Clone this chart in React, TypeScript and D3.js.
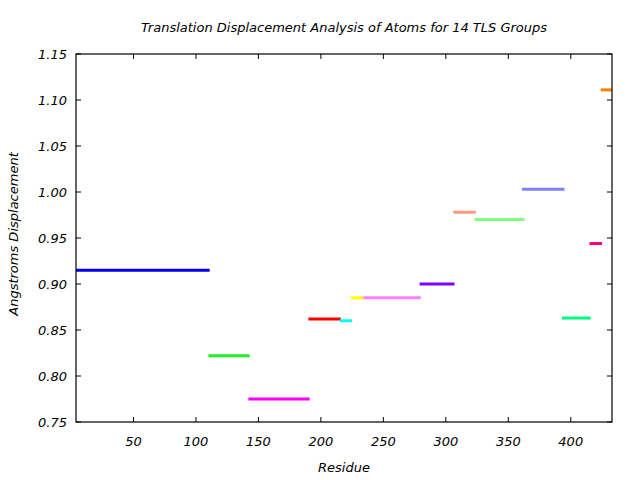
import React from "react";
import * as d3 from "d3";

const groupStart = [4, 110, 142, 190, 215, 224, 234, 279, 306, 323, 361, 393, 415, 424];
const groupEnd = [111, 143, 191, 216, 225, 234, 280, 307, 324, 363, 395, 416, 425, 433];
const displacement = [0.915, 0.822, 0.775, 0.862, 0.86, 0.885, 0.885, 0.9, 0.978, 0.97, 1.003, 0.863, 0.944, 1.111];
const groupColors = ["#0000ee", "#22ee22", "#ff00ff", "#ff0000", "#00ffff", "#ffff00", "#ff80ff", "#8000ff", "#ff9980", "#80ff80", "#8080ff", "#00ff80", "#ff0080", "#ff8000"];
const xTicks = [50, 100, 150, 200, 250, 300, 350, 400];
const yTicks = [0.75, 0.8, 0.85, 0.9, 0.95, 1.0, 1.05, 1.1, 1.15];

const W = 640, H = 480;
const M = { left: 76, right: 612, top: 54, bottom: 422 };
const FONT = "'DejaVu Sans', sans-serif";
const FS = 13;

export default function App() {
  const x = d3.scaleLinear().domain([4, 433]).range([M.left, M.right]);
  const y = d3.scaleLinear().domain([0.75, 1.15]).range([M.bottom, M.top]);
  const tl = 5;
  return (
    <svg width={W} height={H} style={{ position: "absolute", left: 0, top: 0, background: "#fff" }}>
      <g clipPath="url(#clip)">
        <defs>
          <clipPath id="clip">
            <rect x={M.left} y={M.top} width={M.right - M.left} height={M.bottom - M.top} />
          </clipPath>
        </defs>
        {displacement.map((v, i) => (
          <line key={i} x1={x(groupStart[i])} x2={x(groupEnd[i])} y1={y(v)} y2={y(v)} stroke={groupColors[i]} strokeWidth={3} />
        ))}
      </g>
      <rect x={M.left} y={M.top} width={M.right - M.left} height={M.bottom - M.top} fill="none" stroke="#000" strokeWidth={1.2} />
      {xTicks.map((t) => (
        <g key={"x" + t}>
          <line x1={x(t)} x2={x(t)} y1={M.bottom} y2={M.bottom - tl} stroke="#000" />
          <line x1={x(t)} x2={x(t)} y1={M.top} y2={M.top + tl} stroke="#000" />
          <text x={x(t)} y={446} textAnchor="middle" fontFamily={FONT} fontStyle="italic" fontSize={FS}>{t}</text>
        </g>
      ))}
      {yTicks.map((t) => (
        <g key={"y" + t}>
          <line x1={M.left} x2={M.left + tl} y1={y(t)} y2={y(t)} stroke="#000" />
          <line x1={M.right} x2={M.right - tl} y1={y(t)} y2={y(t)} stroke="#000" />
          <text x={67} y={y(t) + 4.5} textAnchor="end" fontFamily={FONT} fontStyle="italic" fontSize={FS}>{t.toFixed(2)}</text>
        </g>
      ))}
      <text x={(M.left + M.right) / 2} y={32} textAnchor="middle" fontFamily={FONT} fontStyle="italic" fontSize={FS}>
        Translation Displacement Analysis of Atoms for 14 TLS Groups
      </text>
      <text x={(M.left + M.right) / 2} y={472} textAnchor="middle" fontFamily={FONT} fontStyle="italic" fontSize={FS}>Residue</text>
      <text transform={`translate(18, 234) rotate(-90)`} textAnchor="middle" fontFamily={FONT} fontStyle="italic" fontSize={FS}>
        Angstroms Displacement
      </text>
    </svg>
  );
}
